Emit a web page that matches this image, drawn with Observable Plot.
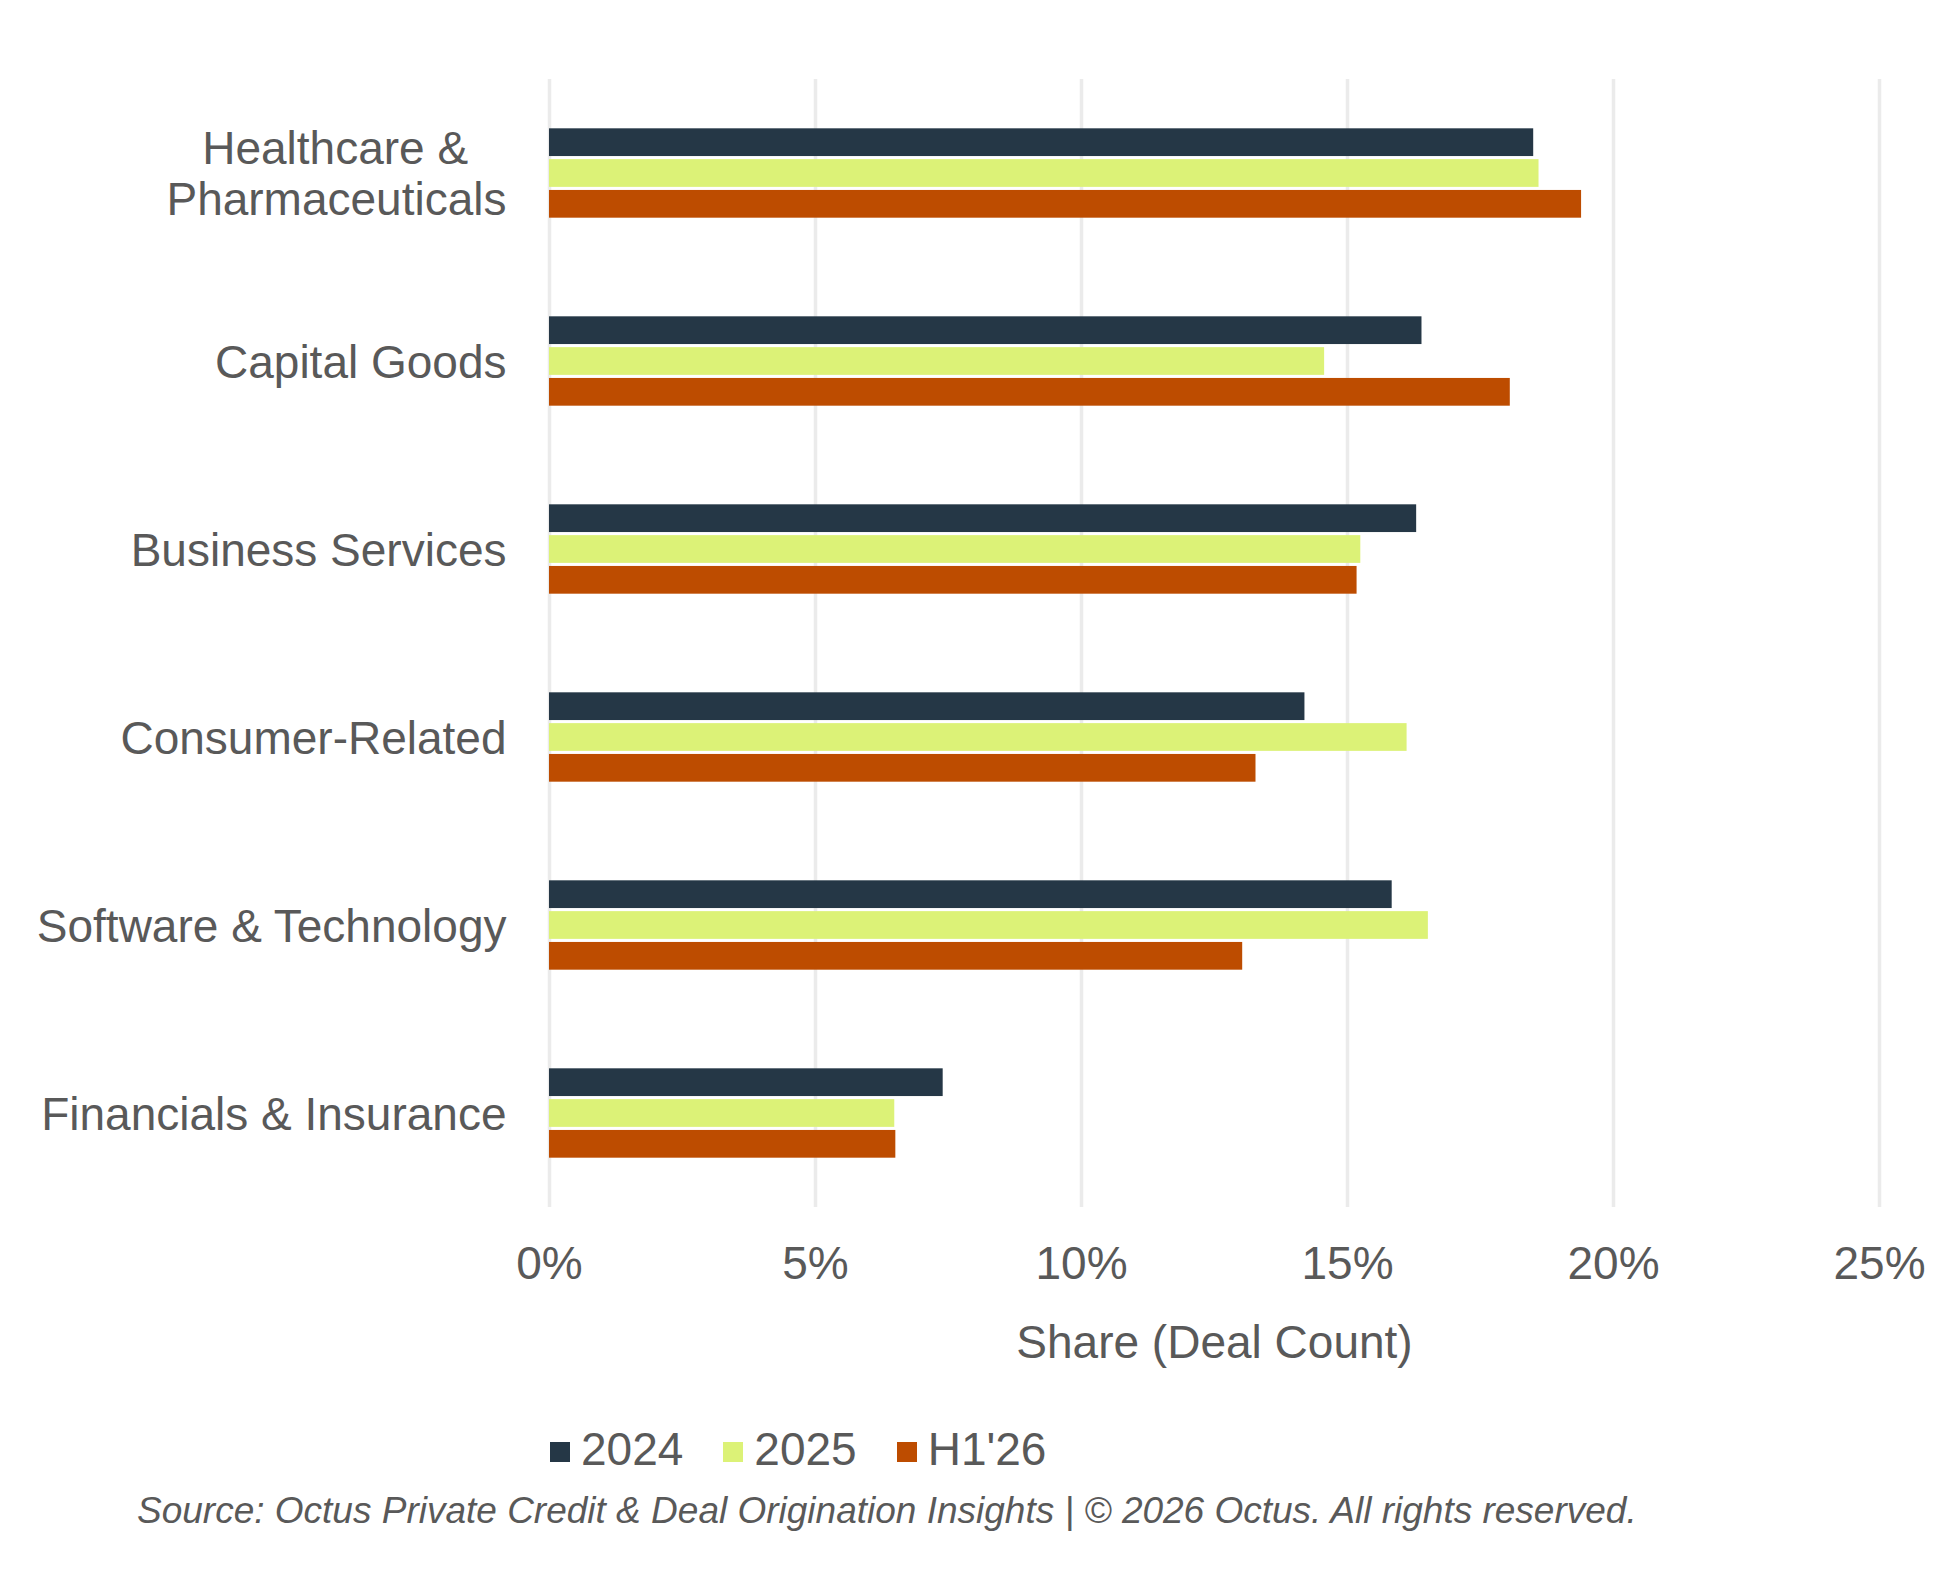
<!DOCTYPE html>
<html>
<head>
<meta charset="utf-8">
<script src="https://cdn.jsdelivr.net/npm/d3@7"></script>
<script src="https://cdn.jsdelivr.net/npm/@observablehq/plot@0.6"></script>
<style>
  html, body { margin: 0; padding: 0; background: #ffffff; }
  #wrap { position: relative; width: 1953px; height: 1584px; font-family: "Liberation Sans", Arial, sans-serif; color: #595959; }
  #chart { position: absolute; left: 0; top: 0; }
  #legend { position: absolute; left: 550px; top: 1426px; height: 46px; display: flex; align-items: center; font-size: 46px; line-height: 46px; }
  .item { display: flex; align-items: center; margin-right: 40px; }
  .sw { width: 20px; height: 20px; margin-right: 11px; margin-top: 5px; }
  #source { position: absolute; left: 137px; top: 1492px; font-size: 37px; line-height: 37px; font-style: italic; white-space: nowrap; }
</style>
</head>
<body>
<div id="wrap">
  <div id="chart"></div>
  <div id="legend"></div>
  <div id="source">Source: Octus Private Credit &amp; Deal Origination Insights | © 2026 Octus. All rights reserved.</div>
</div>
<script>
const categories = ["Healthcare & Pharmaceuticals", "Capital Goods", "Business Services", "Consumer-Related", "Software & Technology", "Financials & Insurance"];
const categoryLabels = ["Healthcare &\u00a0\u00a0\u00a0\nPharmaceuticals", "Capital Goods", "Business Services", "Consumer-Related", "Software & Technology", "Financials & Insurance"];
const series = ["2024", "2025", "H1'26"];
const colors = ["#253746", "#dcf277", "#bd4c00"];
const v2024 = [18.5, 16.4, 16.3, 14.2, 15.84, 7.4];
const v2025 = [18.6, 14.57, 15.25, 16.12, 16.52, 6.49];
const vH126 = [19.4, 18.06, 15.18, 13.28, 13.03, 6.51];
const xTicks = [0, 5, 10, 15, 20, 25];
const axisTitle = "Share (Deal Count)";

const seriesValues = [v2024, v2025, vH126];
const data = categories.flatMap((c, i) => series.map((s, j) => ({category: c, series: s, value: seriesValues[j][i]})));

const textColor = "#595959";
const chart = Plot.plot({
  width: 1953,
  height: 1400,
  marginLeft: 549,
  marginRight: 74,
  marginTop: 79,
  marginBottom: 193,
  style: {fontFamily: '"Liberation Sans", Arial, sans-serif', background: "#ffffff", color: textColor},
  x: {domain: [0, 25]},
  fy: {domain: categories, padding: 0, round: false, label: null, axis: null},
  y: {domain: series, paddingInner: 0.1, paddingOuter: 1.6, round: false, axis: null},
  color: {domain: series, range: colors},
  marks: [
    Plot.gridX(xTicks, {stroke: "#ebebeb", strokeOpacity: 1, strokeWidth: 3.5}),
    Plot.barX(data, {x: "value", y: "series", fy: "category", fill: "series"}),
    Plot.axisX(xTicks, {tickSize: 0, tickPadding: 39, fontSize: 46, fill: textColor, tickFormat: d => d + "%", label: null}),
    Plot.axisFy({anchor: "left", tickSize: 0, tickPadding: 43, fontSize: 46, fill: textColor, lineHeight: 1.11, tickFormat: d => categoryLabels[categories.indexOf(d)], label: null}),
    Plot.text([{category: categories[categories.length - 1], t: axisTitle}], {fy: "category", text: "t", frameAnchor: "bottom", dy: 136, lineAnchor: "middle", fontSize: 46, fill: textColor})
  ]
});
document.getElementById("chart").appendChild(chart);

const legend = document.getElementById("legend");
series.forEach((s, i) => {
  const item = document.createElement("div");
  item.className = "item";
  const sw = document.createElement("span");
  sw.className = "sw";
  sw.style.background = colors[i];
  const t = document.createElement("span");
  t.textContent = s;
  item.appendChild(sw);
  item.appendChild(t);
  legend.appendChild(item);
});
</script>
</body>
</html>
